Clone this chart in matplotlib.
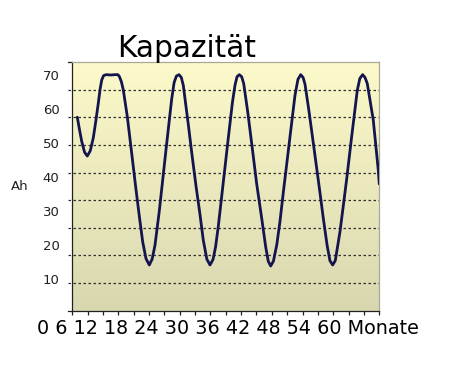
""" Kapazitaet ueber 60 Monate
"""

import matplotlib
matplotlib.use('Agg')
import matplotlib.pyplot as plt
import numpy as np

# data: months, capacity in Ah
months = [
    0.98, 1.4, 1.84, 2.4, 2.93, 3.5, 4.10, 4.6, 5.08, 5.45, 5.75, 6.1,
    6.6, 7.5, 8.34, 8.9, 9.19, 9.6, 9.97, 10.75, 11.61, 12.39, 13.1,
    13.76, 14.4, 15.05, 15.6, 16.16, 17.0, 17.67, 18.45, 19.43, 19.9,
    20.35, 20.85, 21.3, 21.69, 22.67, 23.4, 24.17, 24.96, 25.6, 26.3,
    26.91, 27.5, 28.0, 28.53, 29.51, 30.49, 31.3, 31.8, 32.2, 32.64,
    33.1, 33.5, 34.3, 35.06, 36.04, 37.01, 37.8, 38.3, 38.77, 39.3,
    39.95, 40.59, 41.24, 42.55, 43.52, 44.1, 44.64, 45.1, 45.48, 46.2,
    46.79, 48.27, 49.05, 49.8, 50.35, 50.89, 51.4, 52.32, 53.0, 53.63,
    54.60, 55.70, 56.2, 56.75, 57.2, 57.65, 58.82, 59.8, 60.0,
]
capacity = [
    58.1, 54.5, 51.0, 47.8, 46.7, 48.2, 52.0, 57.0, 62.2, 66.5, 69.0, 70.3,
    70.6, 70.5, 70.6, 70.6, 70.1, 68.5, 66.1, 58.3, 47.5, 37.6, 29.0,
    21.5, 16.6, 14.7, 16.4, 20.5, 30.5, 39.7, 50.4, 63.5, 68.3,
    70.2, 70.6, 69.8, 67.5, 56.0, 47.0, 38.0, 29.5, 22.0, 16.4,
    14.7, 16.3, 20.0, 26.0, 39.0, 52.0, 62.5, 67.5, 70.0, 70.6,
    70.0, 68.0, 59.5, 50.4, 38.5, 28.5, 20.0, 15.8, 14.4, 15.8,
    20.5, 27.5, 36.0, 52.4, 64.5, 69.2, 70.6, 69.8, 67.8, 60.5,
    54.0, 37.5, 28.5, 20.5, 16.0, 14.7, 16.0, 24.5, 32.5, 40.0,
    52.4, 66.0, 69.5, 70.6, 69.8, 68.0, 57.3, 42.6, 38.5,
]

y_labels = [10, 20, 30, 40, 50, 60, 70]
x_text = '0 6 12 18 24 30 36 42 48 54 60 Monate'


def kapazitaet_plot():
    fig = plt.figure(figsize=(4.51, 3.76), dpi=100)
    ax = fig.add_axes([0.1603, 0.1737, 0.6807, 0.6606])

    x_min, x_max = 0, 60
    y_min, y_max = 1.28, 74.23
    ax.set_xlim(x_min, x_max)
    ax.set_ylim(y_min, y_max)

    # yellow to khaki gradient as plot background
    top = np.array([252, 250, 202]) / 255
    bottom = np.array([217, 215, 175]) / 255
    t = np.linspace(0, 1, 256)[:, None]
    grad = (top * (1 - t) + bottom * t)[:, None, :]
    ax.imshow(grad, extent=[x_min, x_max, y_min, y_max], aspect='auto',
              zorder=0, interpolation='bilinear')

    # dotted gridlines, 9 equal divisions, poking out left of the axis
    for gy in np.linspace(y_min, y_max, 10)[1:-1]:
        ax.plot([-0.013, 1], [gy, gy], transform=ax.get_yaxis_transform(),
                color='#303030', lw=0.9, ls=(0, (2, 2)), clip_on=False,
                zorder=1)

    ax.plot(months, capacity, color='#14144e', lw=2.0, zorder=3,
            solid_joinstyle='round', solid_capstyle='round')

    ax.set_xticks(np.arange(0, 61, 3))
    ax.tick_params(axis='x', direction='out', length=3, width=0.9,
                   color='#202020', labelbottom=False)
    ax.set_yticks(y_labels)
    ax.set_yticklabels([])
    ax.tick_params(axis='y', length=0)
    for lab in y_labels:
        ax.text(-0.042, lab, str(lab), transform=ax.get_yaxis_transform(),
                ha='right', va='center', fontsize=9.5, color='#202020')
    # solid ticks at both ends of the y axis
    for gy in (y_min, y_max):
        ax.plot([-0.013, 0], [gy, gy], transform=ax.get_yaxis_transform(),
                color='#202020', lw=0.9, clip_on=False)

    for side in ('top', 'right'):
        ax.spines[side].set_color('#a8a898')
        ax.spines[side].set_linewidth(0.9)
    for side in ('left', 'bottom'):
        ax.spines[side].set_color('#202020')
        ax.spines[side].set_linewidth(0.9)

    fig.text(20 / 451, 1 - 187 / 376, 'Ah', ha='center', va='center',
             fontsize=9.5, color='#202020')
    fig.text(37 / 451, 1 - 329 / 376, x_text, ha='left', va='center',
             fontsize=13.8, color='black')
    fig.text(187 / 451, 1 - 57 / 376, 'Kapazität', ha='center',
             va='baseline', fontsize=21.3, color='black')

    fig.savefig('out.png', dpi=100)


if __name__ == '__main__':
    kapazitaet_plot()
